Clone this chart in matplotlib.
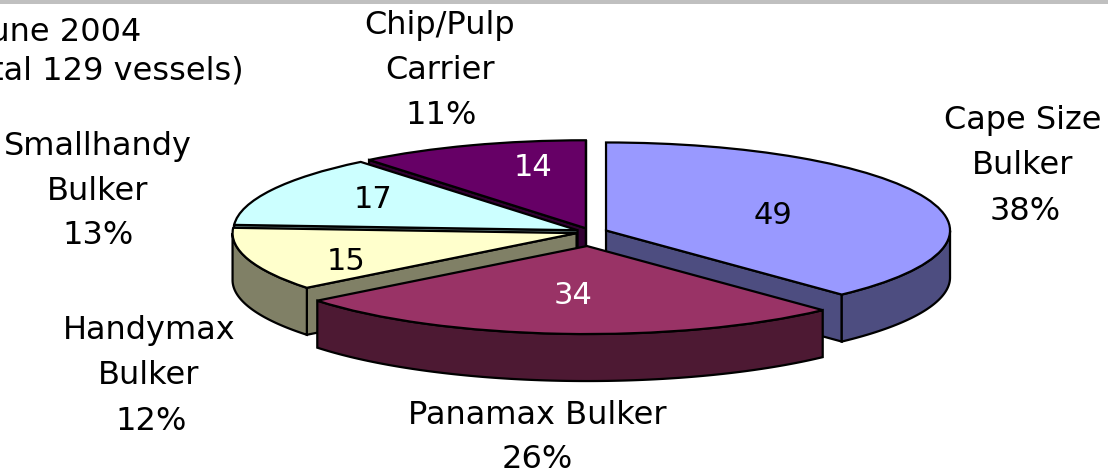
"""
Exploded 3D style pie - bulkers, June 2004
Run: python plot.py
"""
import matplotlib.pyplot as plt
import matplotlib.patches as mpatches
import numpy as np

plt.rcParams['font.family'] = ['DejaVu Sans']

# Slices in clockwise order from 12 o'clock
names = ['Cape Size\nBulker', 'Panamax Bulker', 'Handymax\nBulker', 'Smallhandy\nBulker', 'Chip/Pulp\nCarrier']
vessels = [49, 34, 15, 17, 14]
shares = ['38%', '26%', '12%', '13%', '11%']
note_lines = ['June 2004', '(Total 129 vessels)']

top_colors = ['#9999ff', '#993366', '#ffffcc', '#ccffff', '#660066']
side_colors = ['#4d4d80', '#4d1933', '#808066', '#668080', '#330033']
value_colors = ['black', 'white', 'black', 'black', 'white']
explode = [0.047, 0.16, 0.044, 0.044, 0.045]
draw_order = [4, 5, 3, 2, 1]  # back slices first

W, H = 1108, 475
RX, RY = 344, 88      # pie radius on screen, px
CX, CY = 591, 232     # pie centre, px
DEPTH = 47 / RY
LW = 1.6

fig = plt.figure(figsize=(W / 100, H / 100), dpi=100, facecolor='white')
ax = fig.add_axes([0, 0, 1, 1])
wedges, _ = ax.pie(vessels, explode=explode, startangle=90, counterclock=False,
                   colors=top_colors, wedgeprops={'edgecolor': 'black', 'linewidth': LW})
ax.set_aspect('auto')
ax.set_xlim(-CX / RX, (W - CX) / RX)
ax.set_ylim((CY - H) / RY, CY / RY)
ax.axis('off')


def side_faces(wedge, color, z):
    cx, cy = wedge.center
    t1, t2 = wedge.theta1, wedge.theta2
    # radial cut faces, only those turned to the viewer
    for t, visible in [(t1, np.cos(np.radians(t1)) > 0), (t2, np.cos(np.radians(t2)) < 0)]:
        if visible:
            px = cx + wedge.r * np.cos(np.radians(t))
            py = cy + wedge.r * np.sin(np.radians(t))
            ax.fill([cx, px, px, cx], [cy, py, py - DEPTH, cy - DEPTH],
                    facecolor=color, edgecolor='black', linewidth=LW, zorder=z)
    # outer rim, lower half of the ellipse
    t = np.radians(np.linspace(t1, t2, 300))
    t = t[np.sin(t) < 0]
    if len(t):
        xs = cx + wedge.r * np.cos(t)
        ys = cy + wedge.r * np.sin(t)
        ax.fill(np.r_[xs, xs[::-1]], np.r_[ys, ys[::-1] - DEPTH],
                facecolor=color, edgecolor='black', linewidth=LW, zorder=z)


for wedge, color, z in zip(wedges, side_colors, draw_order):
    side_faces(wedge, color, z * 2)
    wedge.set_zorder(z * 2 + 1)


def px_text(x, y, s, color='black', ha='center', size=23):
    fig.text(x / W, 1 - y / H, s, ha=ha, va='center', fontsize=size,
             linespacing=1.55, color=color)


# Values on the slices
value_pos = [(773, 215), (573, 295), (346, 262), (373, 200), (533, 168)]
for (x, y), v, c in zip(value_pos, vessels, value_colors):
    px_text(x, y, str(v), color=c, size=22)

# Outer labels
label_pos = [(1023, 143), (537, 415), (149, 353), (98, 169), (440, 48)]
share_pos = [(1025, 211), (537, 460), (151, 422), (98, 235), (441, 116)]
for (x, y), (sx, sy), n, s in zip(label_pos, share_pos, names, shares):
    px_text(x, y, n)
    px_text(sx, sy, s)

# Note at top left, cut by the picture edge
px_text(142, 32, note_lines[0], ha='right')
px_text(244, 71, note_lines[1], ha='right')

# Grey rule along the top
fig.patches.append(mpatches.Rectangle((0, 1 - 3.5 / H), 1, 3.5 / H, transform=fig.transFigure,
                                      facecolor='#c0c0c0', edgecolor='none', figure=fig))

plt.savefig('out.png', dpi=100, facecolor='white')
